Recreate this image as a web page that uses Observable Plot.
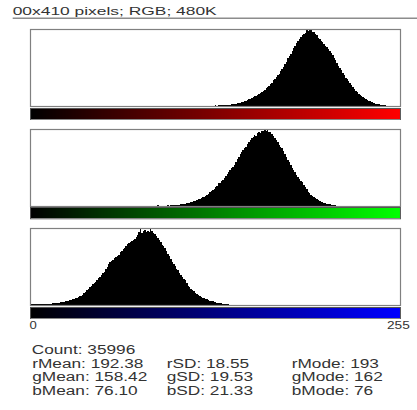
<!DOCTYPE html>
<html><head><meta charset="utf-8">
<script src="https://cdn.jsdelivr.net/npm/d3@7"></script>
<script src="https://cdn.jsdelivr.net/npm/@observablehq/plot@0.6"></script>
<style>
html,body{margin:0;padding:0;background:#fff;}
#root{position:relative;width:417px;height:410px;overflow:hidden;background:#fff;}
#root svg{position:absolute;left:0;}
</style></head><body><div id="root"></div>
<script>
// ---- data (ImageJ RGB histogram, 256 bins per channel) ----
const channels = ["red", "green", "blue"];
const redStart = 125;
const redCounts = [2,1,4,6,5,8,7,9,8,11,10,13,12,16,18,17,22,24,28,33,38,41,47,52,61,66,74,79,88,95,107,113,124,138,146,158,171,182,197,212,226,244,262,285,301,320,343,362,388,412,441,468,497,531,556,583,615,648,672,701,729,748,772,791,802,818,846,833,860,851,829,822,801,788,764,749,731,712,694,673,655,634,611,589,566,541,511,484,452,423,398,371,344,318,297,276,253,231,211,189,171,154,138,122,109,96,86,76,66,58,51,43,37,31,26,22,18,14,12,9,7,5,4,3,1];
const greenStart = 86;
const greenCounts = [0,0,9,0,0,3,2,4,0,8,5,9,6,10,9,12,13,14,17,19,23,25,29,33,36,40,45,51,57,61,68,74,82,89,96,106,117,129,142,155,168,181,195,210,236,238,256,275,291,312,334,351,372,391,405,428,457,484,512,538,562,584,603,618,645,667,690,704,719,738,731,756,770,762,781,775,800,779,792,768,774,752,731,709,688,661,637,614,598,569,541,510,478,452,424,399,371,350,327,305,283,262,245,221,198,172,148,131,117,102,89,80,69,60,52,45,39,34,30,24,20,16,13,10,8,6,4,2,1];
const blueStart = 0;
const blueCounts = [30,14,8,7,9,8,7,9,10,9,11,10,12,13,12,15,16,18,19,21,23,25,28,30,33,36,40,43,47,52,56,61,67,74,80,87,98,110,124,137,151,165,181,194,208,219,231,248,263,281,296,310,332,358,381,403,412,421,436,447,454,470,492,508,521,533,551,569,582,591,603,611,618,640,655,681,720,672,690,701,684,695,678,709,688,671,662,646,626,607,589,563,548,533,504,478,455,432,405,383,362,341,324,301,281,262,245,230,205,182,166,151,138,127,111,101,92,84,76,70,65,58,52,46,42,37,33,29,26,23,20,17,15,13,11,9,7,5,4,2,1];
const axisTickLabels = ["0", "255"];
const headerText = "00x410 pixels; RGB; 480K";
const pixelCount = 35996;
const channelPrefixes = ["r", "g", "b"];
const means = [192.38, 158.42, 76.10];
const sds = [18.55, 19.53, 21.33];
const modes = [193, 162, 76];

// ---- layout ----
const W = 417;
const frameTops = [29, 129, 228];
const frameH = 77;
const barTops = [107.5, 207.3, 306.7];
const barH = 11.3;
const mL = 30, mR = 17;
const root = document.getElementById("root");

function fullHistogram(start, counts) {
  return d3.range(256).map(bin => ({
    bin,
    count: bin >= start && bin < start + counts.length ? counts[bin - start] : 0
  }));
}
const hists = [fullHistogram(redStart, redCounts), fullHistogram(greenStart, greenCounts), fullHistogram(blueStart, blueCounts)];
const rampColor = [
  v => `rgb(${v},0,0)`,
  v => `rgb(0,${v},0)`,
  v => `rgb(0,0,${v})`
];

channels.forEach((ch, i) => {
  const data = hists[i];
  const hist = Plot.plot({
    width: W, height: frameH + 3,
    marginLeft: mL, marginRight: mR, marginTop: 1, marginBottom: 2,
    x: {domain: [0, 256], axis: null},
    y: {domain: [0, d3.max(data, d => d.count)], axis: null},
    style: {background: "transparent"},
    marks: [
      Plot.rectY(data, {x1: "bin", x2: d => d.bin + 1, y1: 0, y2: "count", fill: "black", inset: 0, shapeRendering: "crispEdges"}),
      Plot.frame({stroke: "#808080", strokeWidth: 1.2})
    ]
  });
  hist.style.top = (frameTops[i] - 1) + "px";
  root.appendChild(hist);

  const bar = Plot.plot({
    width: W, height: barH + 2,
    marginLeft: mL, marginRight: mR, marginTop: 1, marginBottom: 1,
    x: {domain: [0, 256], axis: null},
    y: {domain: [0, 1], axis: null},
    color: {type: "identity"},
    style: {background: "transparent"},
    marks: [
      Plot.rect(d3.range(256), {x1: d => d, x2: d => d + 1, y1: 0, y2: 1, fill: rampColor[i], inset: 0, shapeRendering: "crispEdges"}),
      Plot.frame({stroke: "#555", strokeWidth: 1})
    ]
  });
  bar.style.top = (barTops[i] - 1) + "px";
  root.appendChild(bar);
});

// ---- texts (the reference window is stretched horizontally) ----
const svg = d3.create("svg").attr("width", W).attr("height", 410)
  .style("top", "0px").style("font-family", "'Liberation Sans', Arial, sans-serif");
root.appendChild(svg.node());

svg.append("line").attr("x1", 12.7).attr("x2", W).attr("y1", 18.3).attr("y2", 18.3)
  .attr("stroke", "#8c8c8c").attr("stroke-width", 1.6);

function addText(str, x, y, size, stretch, width) {
  const t = svg.append("text").attr("x", x).attr("y", y).attr("font-size", size)
    .attr("fill", "#333").text(str);
  const natural = t.node().getComputedTextLength();
  t.attr("textLength", width ?? natural * stretch).attr("lengthAdjust", "spacingAndGlyphs");
  return t;
}

addText(headerText, 12.7, 15, 11, 1, 204);
addText(axisTickLabels[0], 29.5, 329, 10.5, 1.25);
addText(axisTickLabels[1], 387, 329, 10.5, 1.3);

const sx = 1.38, fs = 12.5;
addText(`Count: ${pixelCount}`, 31.7, 354, fs, sx);
const rowY = [367.5, 381, 394.5];
const colX = [32.2, 166.7, 291.7];
channelPrefixes.forEach((p, i) => {
  addText(`${p}Mean: ${means[i].toFixed(2)}`, colX[0], rowY[i], fs, sx);
  addText(`${p}SD: ${sds[i].toFixed(2)}`, colX[1], rowY[i], fs, sx);
  addText(`${p}Mode: ${modes[i]}`, colX[2], rowY[i], fs, sx);
});
</script></body></html>
